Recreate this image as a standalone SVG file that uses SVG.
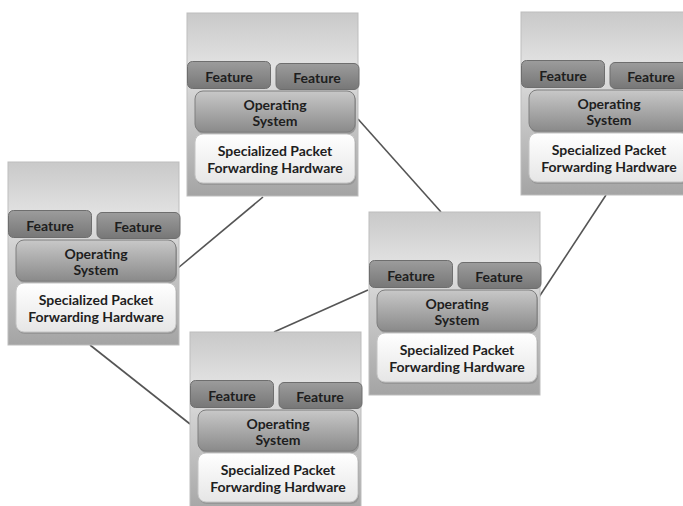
<svg xmlns="http://www.w3.org/2000/svg" width="683" height="506" viewBox="0 0 683 506">
<defs>
<linearGradient id="gOuter" x1="0" y1="0" x2="0" y2="1">
<stop offset="0" stop-color="#c9c9c9"/>
<stop offset="0.3" stop-color="#e3e3e3"/>
<stop offset="0.45" stop-color="#d2d2d2"/>
<stop offset="1" stop-color="#a4a4a4"/>
</linearGradient>
<linearGradient id="gFeat" x1="0" y1="0" x2="0" y2="1">
<stop offset="0" stop-color="#9c9c9c"/>
<stop offset="1" stop-color="#777777"/>
</linearGradient>
<linearGradient id="gOS" x1="0" y1="0" x2="0" y2="1">
<stop offset="0" stop-color="#c8c8c8"/>
<stop offset="1" stop-color="#8a8a8a"/>
</linearGradient>
<linearGradient id="gHW" x1="0" y1="0" x2="0" y2="1">
<stop offset="0" stop-color="#ffffff"/>
<stop offset="1" stop-color="#e6e6e6"/>
</linearGradient>
<g id="node">
<rect x="0" y="0" width="171" height="183" fill="url(#gOuter)" stroke="#bdbdbd" stroke-width="1"/>
<rect class="feat" x="0.5" y="48.5" width="83" height="27" rx="5"/>
<rect class="feat" x="89" y="50.5" width="83" height="26" rx="5"/>
<rect x="9" y="80" width="160" height="41" rx="8" fill="#7a7a7a" opacity="0.6"/>
<rect class="os" x="8" y="78" width="160" height="41" rx="8"/>
<rect x="9" y="123" width="160" height="49" rx="8" fill="#8a8a8a" opacity="0.6"/>
<rect class="hw" x="8" y="121" width="160" height="49" rx="8"/>
<text class="t" x="42" y="69">Feature</text>
<text class="t" x="130" y="70">Feature</text>
<text class="t" x="88" y="97">Operating</text>
<text class="t" x="88" y="113">System</text>
<text class="t" x="88" y="143">Specialized Packet</text>
<text class="t" x="88" y="160">Forwarding Hardware</text>
</g>
</defs>
<style>
.feat{fill:url(#gFeat);stroke:#6e6e6e;stroke-width:1}
.os{fill:url(#gOS);stroke:#7e7e7e;stroke-width:1}
.hw{fill:url(#gHW);stroke:#c4c4c4;stroke-width:1}
.t{font-family:Lato,"Liberation Sans",sans-serif;font-weight:bold;font-size:14px;fill:#1e1e1e;text-anchor:middle}
.c{stroke:#555555;stroke-width:1.6;fill:none}
</style>
<rect width="683" height="506" fill="#ffffff"/>
<g id="connectors">
<line class="c" x1="358" y1="119" x2="441" y2="212"/>
<line class="c" x1="263" y1="197" x2="178" y2="268"/>
<line class="c" x1="90" y1="345" x2="190" y2="424"/>
<line class="c" x1="368" y1="290" x2="274" y2="332"/>
<line class="c" x1="606" y1="195" x2="539" y2="297"/>
</g>
<g id="nodeA" transform="translate(187,13)"><use href="#node"/></g>
<g id="nodeB" transform="translate(8,162)"><use href="#node"/></g>
<g id="nodeC" transform="translate(369,212)"><use href="#node"/></g>
<g id="nodeD" transform="translate(521,12)"><use href="#node"/></g>
<g id="nodeE" transform="translate(190,332)"><use href="#node"/></g>
</svg>
